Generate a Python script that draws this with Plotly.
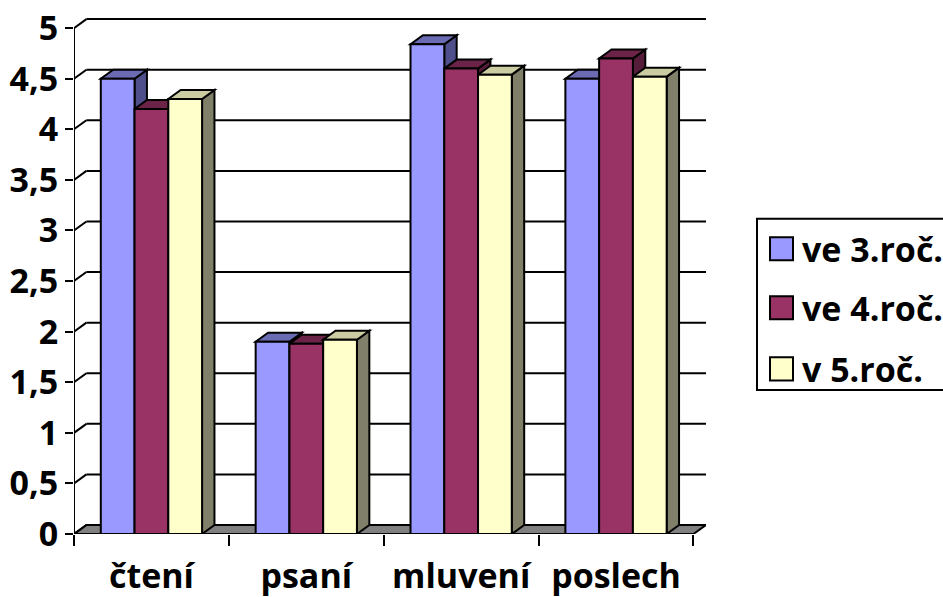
import plotly.graph_objects as go

# Data
categories = ["čtení", "psaní", "mluvení", "poslech"]
series_names = ["ve 3.roč.", "ve 4.roč.", "v 5.roč."]
ve3 = [4.5, 1.9, 4.84, 4.5]
ve4 = [4.2, 1.88, 4.6, 4.7]
v5 = [4.3, 1.92, 4.54, 4.52]
y_ticks = [0, 0.5, 1, 1.5, 2, 2.5, 3, 3.5, 4, 4.5, 5]

series = [ve3, ve4, v5]
front_colors = ["#9999FF", "#993366", "#FFFFCC"]
top_colors = ["#6B6BB3", "#6B2447", "#CCCCA3"]
side_colors = ["#4F4F8C", "#561D3A", "#80806A"]

# Geometry of the pseudo-3D box (in axis units)
BAR_W = 0.218
DX = 0.08
DY = 0.089
X0, X1 = -0.5, len(categories) - 0.5
XR = X1 + DX + 0.001
YMAX = max(y_ticks)
YTOP = 5.1

# Plot area in pixels
W, H = 943, 597
ML, MR, MT, MB = 74, 237, 18.4, 63
PW = W - ML - MR
PH = H - MT - MB

FONT = dict(family="Open Sans", size=34, color="black", weight="bold")
LINE = dict(color="black", width=2)

shapes = []

# Floor
shapes.append(dict(type="path", xref="x", yref="y", layer="below",
                   path=f"M{X0},0 L{X1},0 L{X1 + DX},{DY} L{X0 + DX},{DY} Z",
                   fillcolor="#808080", line=LINE))

# Back-wall gridlines with their diagonal connectors to the front axis
for v in y_ticks:
    shapes.append(dict(type="line", xref="x", yref="y", layer="below",
                       x0=X0 + DX, y0=v + DY, x1=XR, y1=v + DY, line=LINE))
    shapes.append(dict(type="line", xref="x", yref="y", layer="below",
                       x0=X0, y0=v, x1=X0 + DX, y1=v + DY, line=LINE))

fig = go.Figure()

for k, (name, vals) in enumerate(zip(series_names, series)):
    xs = [i + (k - 1) * BAR_W for i in range(len(categories))]
    fig.add_trace(go.Bar(
        x=xs, y=vals, width=BAR_W, name=name, showlegend=False,
        marker=dict(color=front_colors[k], line=LINE),
    ))

# Top and side faces of every bar, drawn left to right so nearer faces overlap
for i in range(len(categories)):
    for k, vals in enumerate(series):
        v = vals[i]
        xc = i + (k - 1) * BAR_W
        a, b = xc - BAR_W / 2, xc + BAR_W / 2
        shapes.append(dict(type="path", xref="x", yref="y", layer="below",
                           path=f"M{b},0 L{b + DX},{DY} L{b + DX},{v + DY} L{b},{v} Z",
                           fillcolor=side_colors[k], line=LINE))
        shapes.append(dict(type="path", xref="x", yref="y", layer="below",
                           path=f"M{a},{v} L{b},{v} L{b + DX},{v + DY} L{a + DX},{v + DY} Z",
                           fillcolor=top_colors[k], line=LINE))

# Front axis lines
shapes.append(dict(type="line", xref="x", yref="y", layer="above",
                   x0=X0, y0=0, x1=X0, y1=YMAX, line=LINE))
shapes.append(dict(type="line", xref="x", yref="y", layer="above",
                   x0=X0, y0=0, x1=X1, y1=0, line=LINE))


def px_x(p):
    return (p - ML) / PW


def px_y(p):
    return (H - MB - p) / PH


# Legend box
annotations = []
shapes.append(dict(type="rect", xref="paper", yref="paper", layer="above",
                   x0=px_x(757), x1=px_x(950), y0=px_y(390), y1=px_y(219),
                   fillcolor="white", line=LINE))
legend_centers = [249, 308, 369]
for k, name in enumerate(series_names):
    cy = legend_centers[k]
    shapes.append(dict(type="rect", xref="paper", yref="paper", layer="above",
                       x0=px_x(770), x1=px_x(793), y0=px_y(cy + 11.5), y1=px_y(cy - 11.5),
                       fillcolor=front_colors[k], line=LINE))
    annotations.append(dict(xref="paper", yref="paper", x=px_x(800), y=px_y(cy),
                            xanchor="left", yanchor="middle", text=name,
                            showarrow=False, font=FONT))

fig.update_layout(
    width=W, height=H,
    margin=dict(l=ML, r=MR, t=MT, b=MB, pad=0, autoexpand=False),
    paper_bgcolor="white", plot_bgcolor="white",
    barmode="overlay",
    separators=", ",
    shapes=shapes,
    annotations=annotations,
    xaxis=dict(
        range=[X0, XR], tickmode="array", automargin=False,
        tickvals=list(range(len(categories))), ticktext=categories,
        ticks="", showgrid=False, zeroline=False, showline=False,
        tickfont=FONT, ticklabelstandoff=19,
        minor=dict(tickmode="array", tickvals=[X0 + j for j in range(len(categories) + 1)],
                   ticks="outside", ticklen=11, tickwidth=2, tickcolor="black",
                   showgrid=False),
    ),
    yaxis=dict(
        range=[0, YTOP], tickmode="array", tickvals=y_ticks, automargin=False,
        ticks="outside", ticklen=8, tickwidth=2, tickcolor="black",
        showgrid=False, zeroline=False, showline=False,
        tickfont=FONT, ticklabelstandoff=0,
    ),
)

fig.write_html("out.html")
